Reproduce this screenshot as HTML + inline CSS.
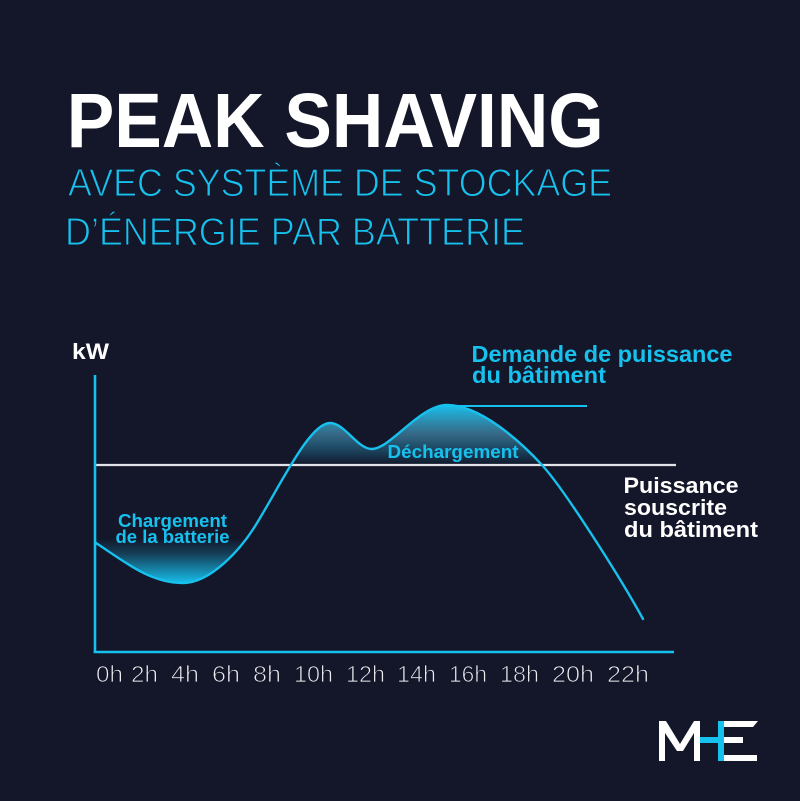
<!DOCTYPE html>
<html>
<head>
<meta charset="utf-8">
<style>
  html,body{margin:0;padding:0;background:#141629;}
  body{width:800px;height:801px;overflow:hidden;}
  svg{display:block;}
  text{font-family:"Liberation Sans", sans-serif;}
</style>
</head>
<body>
<svg width="800" height="801" viewBox="0 0 800 801" xmlns="http://www.w3.org/2000/svg">
  <defs>
    <linearGradient id="gCharge" gradientUnits="userSpaceOnUse" x1="0" y1="538" x2="0" y2="584">
      <stop offset="0" stop-color="#17c1ee" stop-opacity="0"/>
      <stop offset="0.35" stop-color="#17c1ee" stop-opacity="0.25"/>
      <stop offset="1" stop-color="#17c1ee" stop-opacity="1"/>
    </linearGradient>
    <linearGradient id="gDis" gradientUnits="userSpaceOnUse" x1="0" y1="405" x2="0" y2="465">
      <stop offset="0" stop-color="#17c1ee" stop-opacity="1"/>
      <stop offset="0.5" stop-color="#4a9cc0" stop-opacity="0.6"/>
      <stop offset="1" stop-color="#17c1ee" stop-opacity="0"/>
    </linearGradient>
    <clipPath id="clipCharge"><rect x="90" y="538" width="200" height="60"/></clipPath>
    <clipPath id="clipDis"><rect x="280" y="395" width="280" height="70"/></clipPath>
  </defs>

  <rect x="0" y="0" width="800" height="801" fill="#141629"/>

  <!-- Title -->
  <text x="66.7" y="147" font-size="77" font-weight="bold" fill="#ffffff" textLength="537" lengthAdjust="spacingAndGlyphs">PEAK SHAVING</text>
  <g fill="#17c1ee" stroke="#141629" stroke-width="1.1">
    <text x="68" y="196" font-size="39" textLength="544" lengthAdjust="spacingAndGlyphs">AVEC SYSTÈME DE STOCKAGE</text>
    <text x="65" y="245" font-size="39" textLength="460" lengthAdjust="spacingAndGlyphs">D’ÉNERGIE PAR BATTERIE</text>
  </g>

  <!-- kW -->
  <text x="72" y="359" font-size="22" font-weight="bold" fill="#ffffff" textLength="37" lengthAdjust="spacingAndGlyphs">kW</text>

  <!-- Fills -->
  <path clip-path="url(#clipCharge)" fill="url(#gCharge)" d="M96,543 C125,562 150,583 183,583 C210,583 240,551 257,523 L257,530 L96,530 Z"/>
  <path clip-path="url(#clipDis)" fill="url(#gDis)" d="M257,523 C282,482 310,423 330,423 C345,423 357,449 372,449 C390,449 420,405 447,405 C480,405 520,441 542,465 L542,470 L257,470 Z"/>

  <!-- Threshold line -->
  <line x1="96" y1="465" x2="676" y2="465" stroke="#e2e3e9" stroke-width="2.2"/>

  <!-- Axes -->
  <line x1="95" y1="375" x2="95" y2="653" stroke="#17c1ee" stroke-width="2.6"/>
  <line x1="93.7" y1="652" x2="674" y2="652" stroke="#17c1ee" stroke-width="2.4"/>

  <!-- Demand peak line -->
  <line x1="447" y1="406" x2="587" y2="406" stroke="#17c1ee" stroke-width="2"/>

  <!-- Curve -->
  <path fill="none" stroke="#17c1ee" stroke-width="2.4" stroke-linecap="round" d="M96,543 C125,562 150,583 183,583 C210,583 240,551 257,523 C282,482 310,423 330,423 C345,423 357,449 372,449 C390,449 420,405 447,405 C480,405 520,441 542,465 C564,489 620,577 643,619"/>

  <!-- Labels in chart -->
  <text x="118" y="527" font-size="18" font-weight="bold" fill="#17c1ee" textLength="109" lengthAdjust="spacingAndGlyphs">Chargement</text>
  <text x="115.5" y="543" font-size="18" font-weight="bold" fill="#17c1ee" textLength="114" lengthAdjust="spacingAndGlyphs">de la batterie</text>
  <text x="387.5" y="458" font-size="18" font-weight="bold" fill="#17c1ee" textLength="131" lengthAdjust="spacingAndGlyphs">Déchargement</text>

  <text x="471.5" y="362" font-size="23" font-weight="bold" fill="#17c1ee" textLength="261" lengthAdjust="spacingAndGlyphs">Demande de puissance</text>
  <text x="472" y="383" font-size="23" font-weight="bold" fill="#17c1ee" textLength="134" lengthAdjust="spacingAndGlyphs">du bâtiment</text>

  <text x="623.5" y="493" font-size="22" font-weight="bold" fill="#ffffff" textLength="115" lengthAdjust="spacingAndGlyphs">Puissance</text>
  <text x="624" y="515" font-size="22" font-weight="bold" fill="#ffffff" textLength="103" lengthAdjust="spacingAndGlyphs">souscrite</text>
  <text x="624" y="537" font-size="22" font-weight="bold" fill="#ffffff" textLength="134" lengthAdjust="spacingAndGlyphs">du bâtiment</text>

  <!-- X axis labels -->
  <g font-size="23" fill="#eceef2" stroke="#141629" stroke-width="0.8">
    <text x="96" y="682" textLength="27" lengthAdjust="spacingAndGlyphs">0h</text>
    <text x="131" y="682" textLength="27" lengthAdjust="spacingAndGlyphs">2h</text>
    <text x="171" y="682" textLength="28" lengthAdjust="spacingAndGlyphs">4h</text>
    <text x="212" y="682" textLength="28" lengthAdjust="spacingAndGlyphs">6h</text>
    <text x="253" y="682" textLength="28" lengthAdjust="spacingAndGlyphs">8h</text>
    <text x="294" y="682" textLength="39" lengthAdjust="spacingAndGlyphs">10h</text>
    <text x="346" y="682" textLength="39" lengthAdjust="spacingAndGlyphs">12h</text>
    <text x="397" y="682" textLength="39" lengthAdjust="spacingAndGlyphs">14h</text>
    <text x="449" y="682" textLength="38" lengthAdjust="spacingAndGlyphs">16h</text>
    <text x="500" y="682" textLength="39" lengthAdjust="spacingAndGlyphs">18h</text>
    <text x="552" y="682" textLength="42" lengthAdjust="spacingAndGlyphs">20h</text>
    <text x="607" y="682" textLength="42" lengthAdjust="spacingAndGlyphs">22h</text>
  </g>

  <!-- Logo MHE -->
  <g>
    <polygon fill="#ffffff" points="659,761 659,721 666,721 680,744 694,721 700,721 700,761 694,761 694,733 683,751 677,751 665,733 665,761"/>
    <rect x="700" y="737" width="20" height="6" fill="#17c1ee"/>
    <rect x="718" y="721" width="6" height="40" fill="#17c1ee"/>
    <polygon fill="#ffffff" points="724,721 758,721 753,727 724,727"/>
    <rect x="724" y="737" width="19" height="6" fill="#ffffff"/>
    <rect x="724" y="755" width="33" height="6" fill="#ffffff"/>
  </g>
</svg>
</body>
</html>
